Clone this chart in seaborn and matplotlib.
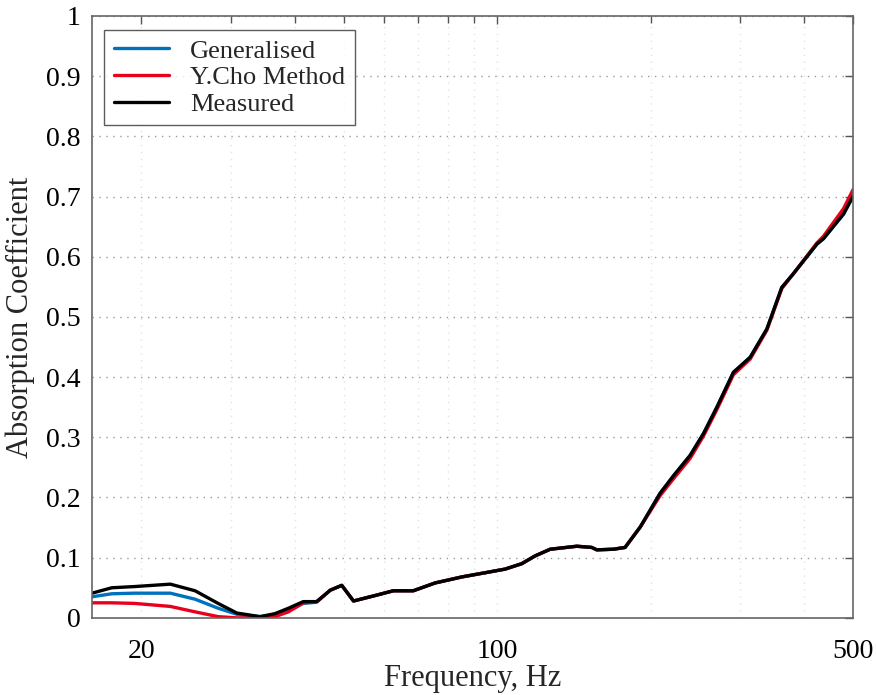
import numpy as np
import pandas as pd
import matplotlib
matplotlib.use("Agg")
import matplotlib.pyplot as plt
import seaborn as sns
from matplotlib.ticker import FixedLocator, NullFormatter

# ---- data ----
freq_hz = [16.0, 17.5, 19.4, 22.8, 25.5, 28.3, 30.8, 34.2, 36.6, 38.9,
           41.6, 44.2, 47.0, 49.5, 52.2, 57.5, 62.5, 68.4, 75.5, 85.2,
           94.7, 103.6, 111.7, 118.7, 127.0, 143.3, 153.3, 156.8, 169.0, 178.2,
           190.9, 208.8, 221.8, 239.2, 254.0, 269.9, 290.9, 313.8, 338.4, 362.0,
           381.6, 424.3, 437.1, 478.6, 500.0]

measured = [0.041, 0.050, 0.052, 0.056, 0.045, 0.024, 0.008, 0.002, 0.007, 0.016,
            0.027, 0.027, 0.046, 0.054, 0.028, 0.037, 0.045, 0.045, 0.058, 0.068,
            0.075, 0.081, 0.090, 0.103, 0.114, 0.119, 0.117, 0.113, 0.114, 0.117,
            0.151, 0.207, 0.236, 0.270, 0.306, 0.350, 0.408, 0.433, 0.480, 0.549,
            0.572, 0.621, 0.630, 0.671, 0.701]

generalised = [0.035, 0.040, 0.041, 0.041, 0.031, 0.016, 0.006, 0.002, 0.005, 0.012,
               0.024, 0.026, 0.046, 0.054, 0.028, 0.037, 0.045, 0.045, 0.058, 0.068,
               0.075, 0.081, 0.090, 0.103, 0.114, 0.119, 0.117, 0.113, 0.114, 0.117,
               0.151, 0.207, 0.236, 0.270, 0.306, 0.350, 0.408, 0.433, 0.480, 0.549,
               0.572, 0.621, 0.630, 0.671, 0.701]

ycho = [0.025, 0.025, 0.024, 0.019, 0.010, 0.002, 0.000, 0.000, 0.002, 0.010,
        0.025, 0.027, 0.046, 0.054, 0.028, 0.037, 0.045, 0.045, 0.058, 0.068,
        0.075, 0.081, 0.090, 0.103, 0.114, 0.119, 0.117, 0.113, 0.114, 0.117,
        0.151, 0.203, 0.231, 0.265, 0.302, 0.346, 0.404, 0.430, 0.478, 0.547,
        0.572, 0.623, 0.634, 0.680, 0.712]

series_names = ["Generalised", "Y.Cho Method", "Measured"]
series_colors = ["#0072BD", "#E8001C", "#000000"]

x_tick_values = [20, 100, 500]
x_tick_labels = ["20", "100", "500"]
y_tick_values = [0, 0.1, 0.2, 0.3, 0.4, 0.5, 0.6, 0.7, 0.8, 0.9, 1.0]
y_tick_labels = ["0", "0.1", "0.2", "0.3", "0.4", "0.5", "0.6", "0.7", "0.8", "0.9", "1"]

df = pd.DataFrame({
    "Frequency": freq_hz * 3,
    "Absorption": generalised + ycho + measured,
    "Series": [series_names[0]] * len(freq_hz) + [series_names[1]] * len(freq_hz)
              + [series_names[2]] * len(freq_hz),
})

# ---- style ----
sns.set_theme(style="white")
plt.rcParams["font.family"] = ["Liberation Serif", "DejaVu Serif"]

fig = plt.figure(figsize=(8.76, 6.95), dpi=100)
ax = fig.add_axes([0.105, 0.111, 0.869, 0.866])

sns.lineplot(data=df, x="Frequency", y="Absorption", hue="Series",
             hue_order=series_names, palette=series_colors,
             estimator=None, sort=False, linewidth=2.4, ax=ax)

ax.set_xscale("log")
ax.set_xlim(16, 500)
ax.set_ylim(0, 1)

ax.xaxis.set_major_locator(FixedLocator(x_tick_values))
ax.set_xticklabels(x_tick_labels)
minor = [v * d for d in (10, 100) for v in range(2, 10)]
minor = [m for m in minor if 16 <= m <= 500 and m not in x_tick_values]
ax.xaxis.set_minor_locator(FixedLocator(minor))
ax.xaxis.set_minor_formatter(NullFormatter())
ax.set_yticks(y_tick_values)
ax.set_yticklabels(y_tick_labels)

ax.tick_params(axis="both", which="both", direction="in", top=True, right=True,
               colors="#555555", labelcolor="black")
ax.tick_params(axis="both", which="major", length=6, width=1)
ax.tick_params(axis="x", which="minor", length=5, width=1)
ax.tick_params(axis="x", which="major", labelsize=20, pad=15)
ax.tick_params(axis="y", which="major", labelsize=20, pad=8)

ax.grid(True, axis="y", which="major", linestyle=(0, (1, 4)), color="#9a9a9a", linewidth=1)
ax.grid(True, axis="x", which="both", linestyle=(0, (1, 4)), color="#e2e2e2", linewidth=1)

for s in ax.spines.values():
    s.set_color("#666666")
    s.set_linewidth(1.2)

ax.set_xlabel("Frequency, Hz", fontsize=22, labelpad=0)
ax.set_ylabel("Absorption Coefficient", fontsize=22, labelpad=8)

leg = ax.legend(loc="upper left", bbox_to_anchor=(0.006, 0.99), fontsize=19,
                frameon=True, fancybox=False, edgecolor="#333333",
                handlelength=2.1, handletextpad=0.8, borderpad=0.35,
                labelspacing=0.12, borderaxespad=0.3)
leg.get_frame().set_linewidth(1.0)
for line in leg.get_lines():
    line.set_linewidth(2.4)

fig.savefig("out.png", dpi=100, facecolor="white")
